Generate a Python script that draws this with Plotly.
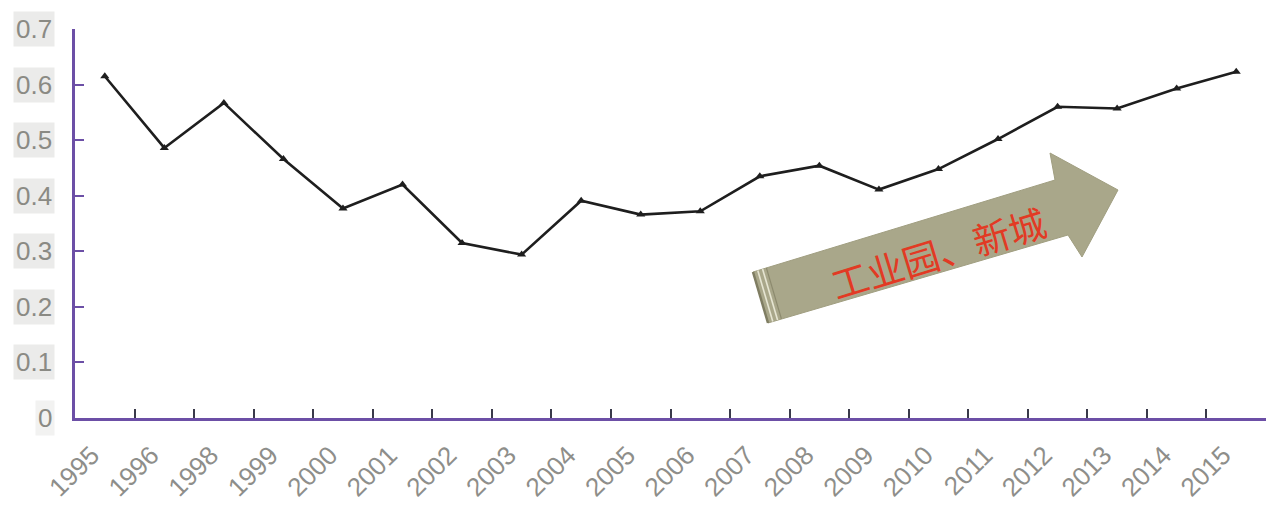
import plotly.graph_objects as go

years = ["1995", "1996", "1998", "1999", "2000", "2001", "2002", "2003", "2004", "2005",
         "2006", "2007", "2008", "2009", "2010", "2011", "2012", "2013", "2014", "2015"]
values = [0.615, 0.486, 0.567, 0.466, 0.377, 0.420, 0.315, 0.294, 0.391, 0.366,
          0.372, 0.435, 0.454, 0.411, 0.448, 0.502, 0.560, 0.557, 0.593, 0.623]
y_ticks = [0, 0.1, 0.2, 0.3, 0.4, 0.5, 0.6, 0.7]
y_tick_labels = ["0", "0.1", "0.2", "0.3", "0.4", "0.5", "0.6", "0.7"]
arrow_text = "工业园、新城"

W, H = 1268, 507
L, R, T, B = 75, 2, 29, 89
PW, PH = W - L - R, H - T - B


def px(x, y):
    return (x - L) / PW, (H - B - y) / PH


def path(points):
    pts = [px(x, y) for x, y in points]
    return "M " + " L ".join(f"{a:.5f},{b:.5f}" for a, b in pts) + " Z"


fig = go.Figure()
fig.add_trace(go.Scatter(
    x=years, y=values, mode="lines+markers",
    line=dict(color="#1e1e1e", width=2.6),
    marker=dict(symbol="triangle-up", size=8, color="#1e1e1e"),
    showlegend=False, hoverinfo="x+y",
))

purple = "#6c4fa6"
fig.update_xaxes(
    type="category", range=[-0.5, 19.5],
    showline=True, linecolor=purple, linewidth=2.5,
    ticks="inside", tickson="boundaries", ticklen=9, tickcolor="#3a3a4a", tickwidth=2,
    tickangle=-45, tickfont=dict(family="Liberation Sans, Arial", size=26, color="#8e8e8a"),
    ticklabelstandoff=9, ticklabelshift=-13,
    showgrid=False, zeroline=False,
)
fig.update_yaxes(
    range=[0, 0.7], tickvals=y_ticks, showticklabels=False,
    showline=True, linecolor=purple, linewidth=2.5,
    ticks="inside", ticklen=9, tickcolor=purple, tickwidth=2,
    showgrid=False, zeroline=False,
)

annotations = []
for v, lab in zip(y_ticks, y_tick_labels):
    annotations.append(dict(
        x=0, xref="paper", y=v, yref="y", text=lab, showarrow=False,
        xanchor="right", yanchor="middle", xshift=-20,
        font=dict(family="Liberation Sans, Arial", size=26, color="#8a8a84"),
        bgcolor="#ebebea" if v > 0 else "#f2f2f1", borderpad=2,
    ))

# arrow decoration
arrow_pts = [(753, 272), (1055, 180), (1050, 153), (1118, 190), (1082, 257), (1068, 235), (768, 323)]
shapes = [dict(type="path", xref="paper", yref="paper", path=path(arrow_pts),
               fillcolor="#a9a78a", line=dict(color="#a09e80", width=1), layer="above")]
# tail stripes
for off, col, wd in [(0, "#7f7d62", 2.5), (5, "#e6e5d2", 1.6), (10, "#e6e5d2", 1.6), (14, "#8c8a6e", 1.2)]:
    ux, uy = 0.957, -0.291
    a = (753 + ux * off, 272 + uy * off)
    b = (768 + ux * off, 323 + uy * off)
    (x0, y0), (x1, y1) = px(*a), px(*b)
    shapes.append(dict(type="line", xref="paper", yref="paper", x0=x0, y0=y0, x1=x1, y1=y1,
                       line=dict(color=col, width=wd), layer="above"))

tx, ty = px(938, 252)
annotations.append(dict(
    x=tx, y=ty, xref="paper", yref="paper", text=arrow_text, showarrow=False,
    textangle=-17, font=dict(family="Noto Sans CJK SC", size=37, color="#e23a24"),
    xanchor="center", yanchor="middle",
))

fig.update_layout(
    width=W, height=H, margin=dict(l=L, r=R, t=T, b=B),
    paper_bgcolor="white", plot_bgcolor="white",
    annotations=annotations, shapes=shapes,
)
fig.write_html("out.html")
